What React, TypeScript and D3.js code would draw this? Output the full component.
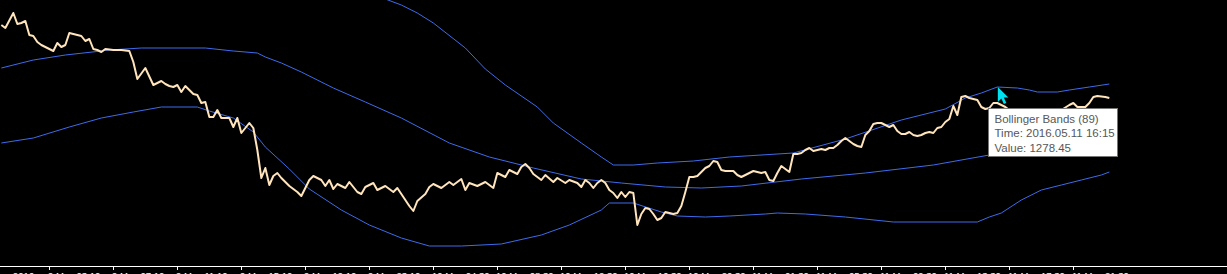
import React from "react";
import * as d3 from "d3";

const W = 1227;
const H = 274;
const AXIS_Y = 266;

// XAUUSD-like M15 closes: bar number -> price
const priceBars = [
  0, 1, 3, 4, 5, 6, 7, 8, 9, 10, 11, 13, 14, 15, 16, 17, 18, 20, 21, 22, 23, 24, 25, 26, 28, 30, 32, 33, 34, 36,
  38, 40, 41, 42, 43, 44, 45, 46, 48, 49, 50, 51, 52, 53, 54, 55, 57, 58, 59, 60, 62, 63, 64, 65, 66, 67, 68, 69, 70, 72,
  74, 75, 76, 77, 78, 80, 81, 82, 83, 84, 86, 87, 89, 90, 91, 93, 94, 96, 98, 99, 101, 102, 103, 104, 106, 107, 108, 110, 112, 113,
  115, 116, 117, 119, 121, 123, 124, 126, 127, 129, 130, 131, 132, 133, 135, 136, 138, 139, 141, 142, 144, 145, 146, 147, 148, 149, 150, 151, 152, 153,
  154, 155, 156, 157, 158, 159, 160, 161, 162, 163, 164, 165, 166, 167, 168, 169, 170, 171, 172, 173, 174, 175, 176, 177, 178, 179, 180, 181, 183, 184,
  185, 186, 187, 188, 189, 190, 191, 192, 193, 194, 195, 196, 197, 198, 199, 200, 201, 202, 203, 204, 205, 206, 207, 208, 209, 210, 211, 212, 213, 214,
  215, 216, 217, 218, 219, 220, 221, 222, 223, 224, 225, 226, 227, 228, 229, 230, 231, 232, 233, 234, 235, 236, 237, 238, 239, 240, 241, 242, 243, 244,
  245, 246, 247, 248, 249, 250, 251, 252, 254, 257, 260, 263, 265, 267, 268, 269, 271, 272, 273, 274, 276, 277,
];
const priceValues = [
  1284.65, 1284.35, 1285.85, 1284.75, 1284.85, 1285.05, 1283.65, 1283.55, 1282.95, 1282.65, 1282.45, 1282.05, 1282.85, 1282.45, 1282.65, 1283.85, 1283.75, 1283.55, 1283.05, 1283.25, 1282.25, 1282.15, 1281.95, 1282.25, 1282.15, 1282.15, 1282.05, 1280.95, 1279.25, 1280.35,
  1278.65, 1279.05, 1278.75, 1278.55, 1278.45, 1278.65, 1277.95, 1278.55, 1277.75, 1277.65, 1276.85, 1276.95, 1275.45, 1275.45, 1276.15, 1275.35, 1275.35, 1274.45, 1275.35, 1273.85, 1274.85, 1274.35, 1272.15, 1269.35, 1270.35, 1268.65, 1269.55, 1269.85, 1269.35, 1268.55,
  1267.95, 1267.55, 1268.35, 1269.15, 1269.55, 1269.15, 1268.55, 1269.15, 1268.25, 1268.75, 1268.35, 1268.95, 1267.95, 1267.75, 1268.45, 1268.85, 1268.15, 1268.55, 1267.95, 1268.35, 1267.15, 1266.55, 1266.05, 1267.05, 1267.75, 1268.45, 1268.75, 1268.35, 1268.95, 1268.65,
  1269.25, 1268.15, 1268.85, 1268.55, 1268.95, 1268.35, 1269.85, 1269.45, 1270.15, 1269.75, 1270.45, 1270.75, 1270.35, 1269.75, 1269.15, 1269.65, 1268.95, 1269.35, 1268.85, 1269.15, 1268.85, 1268.45, 1269.15, 1268.85, 1268.35, 1268.85, 1269.15, 1268.85, 1268.15, 1267.85,
  1267.35, 1267.95, 1267.45, 1267.95, 1267.85, 1264.65, 1265.75, 1266.35, 1266.25, 1265.75, 1265.15, 1265.35, 1265.95, 1265.85, 1265.75, 1265.85, 1266.55, 1267.95, 1269.45, 1269.45, 1269.55, 1269.95, 1270.35, 1270.55, 1271.05, 1270.95, 1270.15, 1270.05, 1270.05, 1269.65,
  1269.45, 1269.65, 1269.85, 1270.05, 1269.95, 1269.85, 1269.95, 1269.15, 1269.05, 1269.85, 1270.55, 1270.25, 1269.95, 1271.75, 1271.75, 1271.85, 1272.15, 1272.35, 1272.05, 1272.15, 1272.25, 1272.15, 1272.35, 1272.35, 1272.65, 1273.05, 1273.35, 1273.05, 1272.75, 1272.55,
  1272.45, 1273.65, 1274.05, 1274.75, 1274.85, 1274.85, 1274.65, 1274.45, 1274.65, 1274.05, 1273.75, 1273.75, 1273.95, 1273.65, 1273.55, 1273.65, 1273.85, 1273.95, 1273.85, 1274.35, 1274.45, 1274.95, 1275.25, 1276.55, 1275.65, 1277.45, 1277.55, 1277.35, 1277.25, 1277.15,
  1276.45, 1276.25, 1276.35, 1276.85, 1276.85, 1276.65, 1276.45, 1276.15, 1275.65, 1275.95, 1275.55, 1275.95, 1276.15, 1276.65, 1276.85, 1276.45, 1276.45, 1276.85, 1277.45, 1277.55, 1277.45, 1277.35,
];

// Bollinger Bands (89): middle line
const midBars = [0, 8, 16, 25, 27, 35, 51, 58, 64, 66, 70, 75, 83, 91, 100, 112, 122, 133, 145, 155, 166, 175, 185, 200, 216, 233, 247, 262, 277];
const midValues = [
  1280.35, 1281.15, 1281.65, 1282.05, 1282.15, 1282.35, 1282.35, 1282.05, 1281.85, 1281.45, 1280.85, 1279.95, 1278.35, 1276.95, 1275.35,
  1272.85, 1271.45, 1270.35, 1269.25, 1268.85, 1268.45, 1268.35, 1268.55, 1269.25, 1269.85, 1270.65, 1271.65, 1272.15, 1272.75,
];

// upper band
const upperBars = [75, 85, 96, 100, 104, 108, 116, 121, 126, 134, 138, 145, 150, 153, 158, 164, 173, 182, 198, 211, 225, 236, 241, 245, 249, 254, 257, 259, 264, 267, 272, 277];
const upperValues = [
  1291.15, 1288.95, 1287.25, 1286.65, 1285.85, 1284.85, 1282.35, 1280.25, 1278.65, 1276.45, 1274.85, 1272.85, 1271.45, 1270.65, 1270.65, 1270.85,
  1271.05, 1271.45, 1271.85, 1273.25, 1275.15, 1276.25, 1277.35, 1277.85, 1278.45, 1278.35, 1278.15, 1277.95, 1277.95, 1278.15, 1278.45, 1278.75,
];

// lower band
const lowerBars = [0, 8, 17, 25, 33, 40, 49, 52, 58, 63, 66, 72, 77, 85, 92, 100, 107, 115, 125, 135, 142, 150, 152, 158, 165, 169, 176, 182, 191, 194, 201, 211, 223, 244, 247, 250, 255, 260, 265, 270, 275, 277];
const lowerValues = [
  1272.85, 1273.35, 1274.45, 1275.35, 1275.95, 1276.45, 1276.45, 1276.05, 1275.35, 1273.95, 1272.45, 1270.25, 1268.25, 1266.15, 1264.65, 1263.35, 1262.55, 1262.55, 1262.75, 1263.65, 1264.65,
  1266.15, 1266.85, 1266.85, 1265.95, 1265.55, 1265.45, 1265.55, 1265.75, 1265.85, 1265.75, 1265.45, 1264.95, 1264.95, 1265.45, 1265.85, 1267.15, 1268.15, 1268.65, 1269.15, 1269.65, 1269.95,
];

// time axis
const tickBars = [-4, 12, 28, 44, 60, 76, 92, 108, 124, 140, 156, 172, 188, 204, 220, 236, 252, 268];
const tickLabels = [
  "9 May 2016", "9 May 03:10", "9 May 07:10", "9 May 11:10", "9 May 15:10", "9 May 19:10", "9 May 23:10",
  "10 May 04:30", "10 May 08:30", "10 May 12:30", "10 May 16:30", "10 May 20:30",
  "11 May 01:30", "11 May 05:30", "11 May 09:30", "11 May 13:30", "11 May 17:30", "11 May 21:30",
];

// hovered point
const hoverBar = 249;
const hoverValue = 1278.45;
const tooltipLines = ["Bollinger Bands (89)", "Time: 2016.05.11 16:15", "Value: 1278.45"];

export default function App() {
  const x = d3.scaleLinear().domain([0, 300]).range([1.33, 1201.33]);
  const y = d3.scaleLinear().domain([1260.55, 1287.15]).range([AXIS_Y, 0]);

  const mk = (bars: number[], vals: number[]) =>
    d3
      .line<number>()
      .x((_, i) => x(bars[i]))
      .y((d) => y(d))(vals) || "";

  const hx = x(hoverBar);
  const hy = y(hoverValue);
  const tipX = Math.round(hx) - 8.5;
  const tipY = Math.round(hy) + 21.5;

  return (
    <svg
      width={W}
      height={H}
      style={{ position: "absolute", left: 0, top: 0, display: "block", background: "#000" }}
    >
      <defs>
        <clipPath id="plot">
          <rect x={0} y={0} width={W} height={AXIS_Y} />
        </clipPath>
      </defs>
      <rect x={0} y={0} width={W} height={H} fill="#000" />
      <g clipPath="url(#plot)">
        <path d={mk(upperBars, upperValues)} fill="none" stroke="#3D6CEB" strokeWidth={1} />
        <path d={mk(midBars, midValues)} fill="none" stroke="#3D6CEB" strokeWidth={1} />
        <path d={mk(lowerBars, lowerValues)} fill="none" stroke="#3D6CEB" strokeWidth={1} />
        <path
          d={mk(priceBars, priceValues)}
          fill="none"
          stroke="#FFE4BC"
          strokeWidth={2}
          strokeLinejoin="round"
        />
      </g>
      <line x1={0} x2={W} y1={AXIS_Y + 0.5} y2={AXIS_Y + 0.5} stroke="#fff" strokeWidth={1} />
      {tickBars.map((b, i) => {
        const tx = Math.round(x(b)) + 0.5;
        return (
          <g key={i}>
            {i > 0 && <line x1={tx} x2={tx} y1={AXIS_Y} y2={AXIS_Y + 4} stroke="#fff" strokeWidth={1} />}
            <text
              x={i === 0 ? 34 : tx - 1.5}
              y={AXIS_Y + 13}
              textAnchor={i === 0 ? "end" : "start"}
              fill="#fff"
              fontFamily="Liberation Sans, Arial, sans-serif"
              fontSize={9.5}
            >
              {tickLabels[i]}
            </text>
          </g>
        );
      })}
      {/* tooltip */}
      <rect x={tipX} y={tipY} width={129} height={48} fill="#fff" stroke="#767676" strokeWidth={1} />
      {tooltipLines.map((t, i) => (
        <text
          key={i}
          x={tipX + 6}
          y={tipY + 14 + i * 14.5}
          fill="#575757"
          fontFamily="Liberation Sans, Arial, sans-serif"
          fontSize={11.5}
        >
          {t}
        </text>
      ))}
      {/* mouse cursor */}
      <path
        transform={`translate(${hx + 0.5},${hy})`}
        d="M0,0 L0,15 L3.5,11.5 L6,17 L8.5,16 L6,10.5 L10.5,10.5 Z"
        fill="#00E0EE"
      />
    </svg>
  );
}
